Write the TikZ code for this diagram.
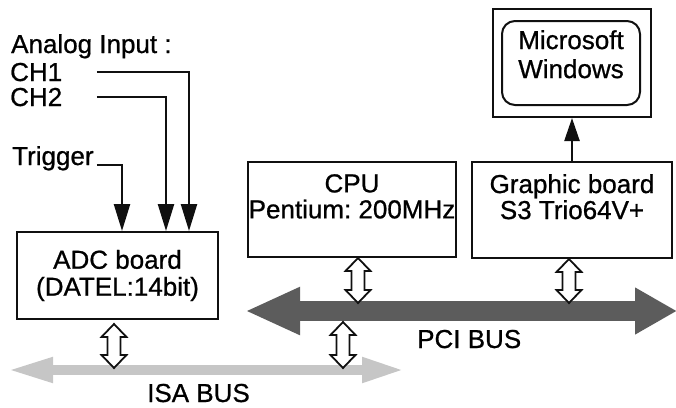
\documentclass[tikz,border=0pt]{standalone}
\usepackage{fontspec}
\setmainfont{Liberation Sans}[FakeBold=0.8]
\usepackage{tikz}
\usetikzlibrary{arrows.meta,calc,positioning}
\frenchspacing
\definecolor{busdark}{HTML}{5C5C5C}
\definecolor{buslight}{HTML}{C6C6C6}
\definecolor{boardline}{HTML}{101010}
\tikzset{
every picture/.style={line join=miter},
board box/.style={
  draw=boardline,
  line width=2pt,
  inner sep=0pt,
  align=center,
  font=\fontsize{26}{27}\selectfont
},
board text/.style={font=\fontsize{26}{26}\selectfont, align=center, inner sep=0pt},
side label/.style={font=\fontsize{26}{26}\selectfont, inner sep=0pt, anchor=base west},
sig flow/.style={
  draw=boardline,
  line width=2.4pt,
  -{Triangle[length=27pt,width=16pt]}
},
pci bus/.style={
  draw=busdark,
  line width=20pt,
  {Triangle[length=55pt,width=44pt]}-{Triangle[length=42pt,width=44pt]}
},
isa bus/.style={
  draw=buslight,
  line width=10pt,
  {Triangle[length=46pt,width=23pt]}-{Triangle[length=43pt,width=23pt]}
},
bus link/.style={draw=boardline, fill=white, line width=1.8pt}
}
% hollow two-headed link, drawn straight down from #1 to the height of #2
\newcommand{\buslink}[2]{%
  \draw[bus link] let \p1=(#1), \p2=(#2) in
    (\x1,\y1) -- (\x1+12.5pt,\y1-13pt) -- (\x1+6.5pt,\y1-13pt)
    -- (\x1+6.5pt,\y2+13pt) -- (\x1+12.5pt,\y2+13pt) -- (\x1,\y2)
    -- (\x1-12.5pt,\y2+13pt) -- (\x1-6.5pt,\y2+13pt)
    -- (\x1-6.5pt,\y1-13pt) -- (\x1-12.5pt,\y1-13pt) -- cycle;}

\begin{document}
\begin{tikzpicture}[
x=1pt, y=-1pt,
]
\useasboundingbox (0,0) rectangle (676,407);
% boards
\node[board box, minimum width=201pt, minimum height=87pt] (adc) at (117.5,275.5) {ADC board\\(DATEL:14bit)};
\node[board box, minimum width=208pt, minimum height=95pt] (cpu) at (352,209.5) {};
\node[board text, below=13pt of cpu.north] (cpu text) {CPU\\Pentium: 200MHz};
\node[board box, minimum width=200pt, minimum height=96pt] (gfx) at (572,210) {};
\node[board text, below=13pt of gfx.north] (gfx text) {Graphic board\\S3 Trio64V+};
\node[board box, minimum width=158pt, minimum height=108pt] (win) at (571.5,63) {};
\node[board box, rounded corners=13pt, minimum width=138pt, minimum height=84pt] (os) at (571,63) {};
\node[board text, font=\fontsize{26}{29}\selectfont, below=10pt of os.north] (os text) {Microsoft\\Windows};
% inputs
\node[side label] (analog) at (11,53) {Analog Input :};
\node[side label] (ch1) at (10,81) {CH1};
\node[side label] (ch2) at (10,106) {CH2};
\node[side label] (trig) at (12,165) {Trigger};
\draw[sig flow] ([xshift=3pt]trig.base east) -| ($(adc.north)+(4.5,0)$);
\draw[sig flow] ([xshift=3pt]trig.east |- ch2.east) -| ($(adc.north)+(48.5,0)$);
\draw[sig flow] ([xshift=3pt]trig.east |- ch1.east) -| ($(adc.north)+(71.5,0)$);
\draw[sig flow, -{Triangle[length=23pt,width=15pt]}] (gfx.north) -- (gfx.north |- win.south);
% buses
\coordinate (pci west) at (245,311);
\coordinate (pci east) at (677,311);
\coordinate (isa west) at (7,370);
\coordinate (isa east) at (405,370);
\draw[pci bus] (pci west) -- (pci east);
\draw[isa bus] (isa west) -- (isa east);
\node[side label] (pci label) at (417,348) {PCI BUS};
\node[side label] (isa label) at (147,402) {ISA BUS};
\buslink{$(adc.south)+(-3.5,4)$}{$(isa west)+(0,-2)$}
\buslink{$(cpu.south)+(6,0)$}{$(pci west)+(0,-8)$}
\buslink{$(gfx.south)+(-3,0)$}{$(pci west)+(0,-8)$}
\buslink{$(pci west)+(98,11)$}{$(isa west)+(0,-2)$}
\end{tikzpicture}
\end{document}
